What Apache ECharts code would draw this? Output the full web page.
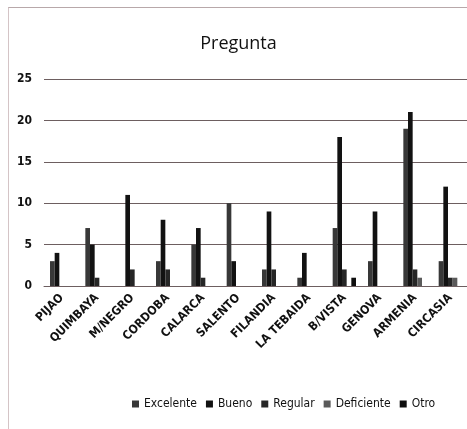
<!DOCTYPE html>
<html>
<head>
<meta charset="utf-8">
<script src="https://cdn.jsdelivr.net/npm/echarts@6/dist/echarts.min.js"></script>
<style>
  html, body { margin: 0; padding: 0; background: #fff; }
  #myChart {
    position: absolute;
    left: 8px;
    top: 7px;
    width: 459px;
    height: 422px;
    border-left: 1px solid #d4c4c6;
    border-top: 1px solid #b8a8aa;
  }
</style>
</head>
<body>
<div id="myChart"></div>
<script>
  // municipios
  const categories = ['PIJAO', 'QUIMBAYA', 'M/NEGRO', 'CORDOBA', 'CALARCA', 'SALENTO',
    'FILANDIA', 'LA TEBAIDA', 'B/VISTA', 'GENOVA', 'ARMENIA', 'CIRCASIA']
  const seriesNames = ['Excelente', 'Bueno', 'Regular', 'Deficiente', 'Otro']
  const excelente = [3, 7, 0, 3, 5, 10, 2, 1, 7, 3, 19, 3]
  const bueno = [4, 5, 11, 8, 7, 3, 9, 4, 18, 9, 21, 12]
  const regular = [0, 1, 2, 2, 1, 0, 2, 0, 2, 0, 2, 1]
  const deficiente = [0, 0, 0, 0, 0, 0, 0, 0, 0, 0, 1, 1]
  const otro = [0, 0, 0, 0, 0, 0, 0, 0, 1, 0, 0, 0]
  const yTicks = [0, 5, 10, 15, 20, 25]

  const colores = ['#383838', '#121212', '#262626', '#5a5a5a', '#0e0e0e']
  const valores = [excelente, bueno, regular, deficiente, otro]
  const fuente = 'DejaVu Sans Condensed'

  let myChart = echarts.init(document.getElementById('myChart'))
  myChart.setOption({
    animation: false,
    textStyle: { fontFamily: fuente },
    title: {
      text: 'Pregunta',
      left: 'center',
      top: 22,
      textStyle: { fontSize: 18, fontWeight: 'normal', color: '#111', fontFamily: 'Open Sans' }
    },
    legend: {
      data: seriesNames,
      bottom: 15,
      left: 118,
      itemWidth: 7,
      itemHeight: 7,
      itemGap: 9,
      icon: 'rect',
      textStyle: { fontSize: 12, color: '#111', fontFamily: fuente }
    },
    grid: {
      left: 35,
      right: 0,
      top: 71,
      bottom: 144
    },
    xAxis: {
      type: 'category',
      data: categories,
      axisLine: { show: true, lineStyle: { color: '#6d5e60' } },
      axisTick: { show: false },
      axisLabel: {
        rotate: 45,
        interval: 0,
        fontSize: 12,
        fontWeight: 'bold',
        color: '#111',
        margin: 10,
        fontFamily: fuente
      }
    },
    yAxis: {
      type: 'value',
      min: yTicks[0],
      max: yTicks[yTicks.length - 1],
      interval: 5,
      axisLine: { show: false },
      axisTick: { show: false },
      axisLabel: { fontSize: 12, fontWeight: 'bold', color: '#111', margin: 12 },
      splitLine: { lineStyle: { color: '#6d5e60', width: 1 } }
    },
    series: seriesNames.map((name, i) => ({
      name: name,
      type: 'bar',
      data: valores[i],
      barGap: '0%',
      barCategoryGap: '34%',
      itemStyle: { color: colores[i] }
    }))
  })
</script>
</body>
</html>
